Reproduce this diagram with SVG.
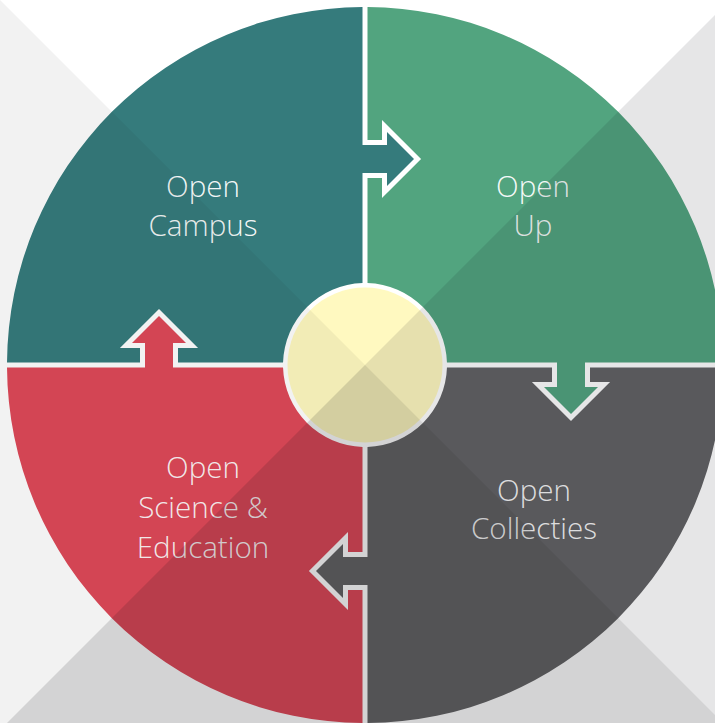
<svg xmlns="http://www.w3.org/2000/svg" xmlns:xlink="http://www.w3.org/1999/xlink" width="715" height="723" viewBox="0 0 715 723">
<style>
.lbl{font-family:"Open Sans","Segoe UI","Liberation Sans",sans-serif;font-weight:300;font-size:29.6px;fill:#ffffff;fill-opacity:0.95;text-anchor:middle}
.ov{fill:#0a0c12}
</style>
<defs>
<path id="quad" d="M362.5,7.01 L362.5,145 L387,145 L387,132 L414,159 L387,186 L387,173 L362.5,173 L362.5,283.04 A82,82 0 0 0 283.04,362.5 L178,362.5 L178,348 L198.07,348 L159,308.93 L119.93,348 L140,348 L140,362.5 L7.01,362.5 A358,358 0 0 1 362.5,7.01 Z"/>
</defs>
<rect x="0" y="0" width="715" height="723" fill="#ffffff"/>
<circle cx="365" cy="365" r="360.5" fill="none" stroke="#ffffff" stroke-width="1.2" opacity="0.7"/>
<g id="nodes">
<g id="open-campus">
<use xlink:href="#quad" href="#quad" fill="#357b7c"/>
<text class="lbl" x="203" y="197">Open</text>
<text class="lbl" x="203" y="236">Campus</text>
</g>
<g id="open-up">
<use xlink:href="#quad" href="#quad" fill="#52a47f" transform="rotate(90 365 365)"/>
<text class="lbl" x="533" y="197">Open</text>
<text class="lbl" x="533" y="236">Up</text>
</g>
<g id="open-collecties">
<use xlink:href="#quad" href="#quad" fill="#636365" transform="rotate(180 365 365)"/>
<text class="lbl" x="534" y="501">Open</text>
<text class="lbl" x="534" y="539">Collecties</text>
</g>
<g id="open-science">
<use xlink:href="#quad" href="#quad" fill="#df4858" transform="rotate(270 365 365)"/>
<text class="lbl" x="203" y="478">Open</text>
<text class="lbl" x="203" y="518">Science &amp;</text>
<text class="lbl" x="203" y="558">Education</text>
</g>
<g id="center">
<circle cx="365" cy="365" r="77.5" fill="#fff9c0"/>
</g>
</g>
<g id="connectors"></g>
<g id="shading">
<polygon class="ov" points="365,365 0,730 0,0" opacity="0.055"/>
<polygon class="ov" points="365,365 730,0 730,730" opacity="0.10"/>
<polygon class="ov" points="365,365 730,730 0,730" opacity="0.18"/>
</g>
</svg>
